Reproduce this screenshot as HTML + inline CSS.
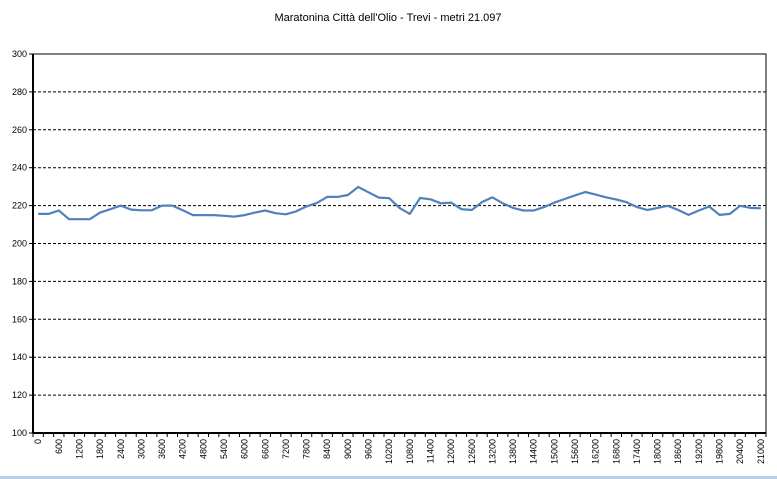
<!DOCTYPE html>
<html><head><meta charset="utf-8"><style>
html,body{margin:0;padding:0;background:#fff;}
svg{display:block;font-family:"Liberation Sans",sans-serif;}
</style></head><body>
<svg id="chart" width="777" height="479" viewBox="0 0 777 479" xmlns="http://www.w3.org/2000/svg">
<rect x="0" y="0" width="777" height="479" fill="#fff"/>
<text x="388" y="21" font-size="11" text-anchor="middle" fill="#000">Maratonina Città dell'Olio - Trevi - metri 21.097</text>
<g id="grid"></g>
<g id="axes"></g>
<g id="series"></g>
<rect x="0" y="476" width="777" height="3" fill="#b8cfe8"/>
</svg>
<script>
const distances = [];
for (let d = 0; d <= 21000; d += 300) distances.push(d);
const elevations = [215.6,215.6,217.4,212.8,212.8,212.8,216.3,218.1,220,217.9,217.5,217.5,220,220,217.5,215,215,215,214.6,214.2,215,216.3,217.4,216,215.4,217,219.6,221.4,224.6,224.6,225.6,229.8,227,224.2,223.9,218.8,215.6,224,223.3,221.2,221.6,218.1,217.7,221.9,224.4,221.2,218.8,217.4,217.4,219.2,221.6,223.5,225.4,227.2,225.8,224.4,223.2,221.8,219.2,217.7,218.8,219.9,217.7,215.1,217.4,219.5,215.1,215.6,219.9,218.8,218.6];
const yTicks = [100,120,140,160,180,200,220,240,260,280,300];
const xLabelStep = 600;

const NS = "http://www.w3.org/2000/svg";
const L = 33, R = 766, T = 54, B = 433;
const yMin = 100, yMax = 300;
const catW = (R - L) / distances.length;
function xPos(i){ return L + (i + 0.5) * catW; }
function yPos(v){ return B - (v - yMin) / (yMax - yMin) * (B - T); }
function mk(tag, attrs, parent){ const e = document.createElementNS(NS, tag); for (const k in attrs) e.setAttribute(k, attrs[k]); parent.appendChild(e); return e; }

const grid = document.getElementById('grid');
const axes = document.getElementById('axes');
const series = document.getElementById('series');

yTicks.forEach(v => {
  const y = yPos(v);
  if (v !== yMin && v !== yMax) {
    const g = mk('line', {x1:L, x2:R, y1:y, y2:y, stroke:'#000', 'stroke-width':1, 'stroke-dasharray':'3,2'}, grid);
    
    
  }
  const t = mk('line', {x1:L-4, x2:L, y1:y, y2:y, stroke:'#000'}, axes);
  
  
  const lab = mk('text', {x:L-6, y:y+3, 'font-size':9, 'text-anchor':'end', fill:'#000'}, axes);
  lab.textContent = v;
  
  
});

const frame = mk('rect', {x:L, y:T, width:R-L, height:B-T, fill:'none', stroke:'#000', 'stroke-width':1}, axes);


const xAxis = mk('line', {x1:L, x2:R, y1:B, y2:B, stroke:'#000', 'stroke-width':2}, axes);


const yAxis = mk('line', {x1:L, x2:L, y1:T, y2:B, stroke:'#000', 'stroke-width':2}, axes);



for (let i = 0; i <= distances.length; i++) {
  const x = L + i * catW;
  const tk = mk('line', {x1:x, x2:x, y1:B, y2:B+4, stroke:'#000'}, axes);
  
  
}
distances.forEach((d, i) => {
  if (d % xLabelStep !== 0) return;
  const x = xPos(i) + 3;
  const lab = mk('text', {x:0, y:0, 'font-size':9, 'text-anchor':'end', fill:'#000', transform:'translate(' + x + ',' + (B+6) + ') rotate(-90)'}, axes);
  lab.textContent = d;
  
  
});

const pts = elevations.map((v, i) => xPos(i).toFixed(1) + ',' + yPos(v).toFixed(1)).join(' ');
const line = mk('polyline', {points:pts, fill:'none', stroke:'#4f81bd', 'stroke-width':2.2, 'stroke-linejoin':'round'}, series);


</script>
</body></html>
